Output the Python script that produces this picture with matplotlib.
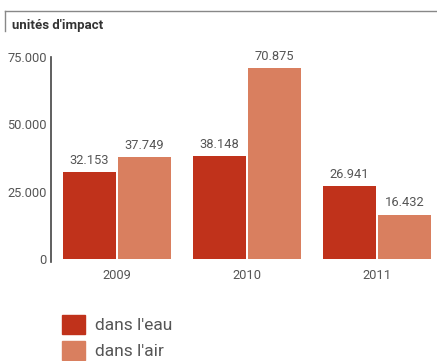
import matplotlib
matplotlib.use("Agg")
from matplotlib import pyplot as plt
from matplotlib.patches import Patch
from matplotlib.lines import Line2D

years = ["2009", "2010", "2011"]
eau = [32153, 38148, 26941]
air = [37749, 70875, 16432]
series_names = ["dans l'eau", "dans l'air"]
yticks = [0, 25000, 50000, 75000]

RED = "#c0321b"
ORANGE = "#d97f5f"
GREY = "#555555"

plt.rcParams['font.family'] = ['Roboto', 'DejaVu Sans']


def fmt(v):
    # thousands separated with a dot, french style
    return f"{v:,}".replace(",", ".")


fig = plt.figure(figsize=(4.37, 3.61), dpi=100)
W, H = 437, 361

# axes placed in pixel terms
ax = fig.add_axes([51 / W, (H - 262) / H, (W - 51) / W, (262 - 57) / H])

x = list(range(len(years)))
width = 0.4077
off = 0.2115
bars_eau = ax.bar([i - off for i in x], eau, width=width, color=RED)
bars_air = ax.bar([i + off for i in x], air, width=width, color=ORANGE)

for bars, vals in ((bars_eau, eau), (bars_air, air)):
    for bar, v in zip(bars, vals):
        ax.annotate(fmt(v), (bar.get_x() + bar.get_width() / 2, v),
                    xytext=(0, 4), textcoords="offset points",
                    ha="center", va="bottom", fontsize=9.3, color=GREY)

ax.set_xlim(-0.5077, 2.4615)
ax.set_ylim(-1114, 75000)
ax.set_xticks(x)
ax.set_xticklabels(years)
ax.set_yticks(yticks)
ax.set_yticklabels([fmt(t) for t in yticks])
ax.tick_params(axis="both", length=0, labelsize=9.3, labelcolor=GREY)
ax.tick_params(axis="y", pad=3)
ax.tick_params(axis="x", pad=5)
for s in ["top", "right", "bottom"]:
    ax.spines[s].set_visible(False)
ax.spines["left"].set_color("#444444")
ax.spines["left"].set_linewidth(1.2)

# header frame and unit label
fig.add_artist(Line2D([5 / W, 1], [1 - 11 / H, 1 - 11 / H], color="#888888", lw=1))
fig.add_artist(Line2D([5 / W, 5 / W], [1 - 11 / H, 1 - 31 / H], color="#888888", lw=1))
fig.text(12 / W, 1 - 26 / H, "unités d'impact", fontsize=9.5, fontweight="bold",
         color="#333333", va="center", ha="left")

handles = [Patch(color=RED), Patch(color=ORANGE)]
fig.legend(handles, series_names, loc="upper left",
           bbox_to_anchor=(62 / W, 1 - 315 / H), frameon=False, borderpad=0,
           borderaxespad=0, fontsize=12.5, handlelength=1.35, handleheight=1.3,
           handletextpad=0.55, labelspacing=0.4, labelcolor=GREY)

fig.savefig("out.png", dpi=100)
